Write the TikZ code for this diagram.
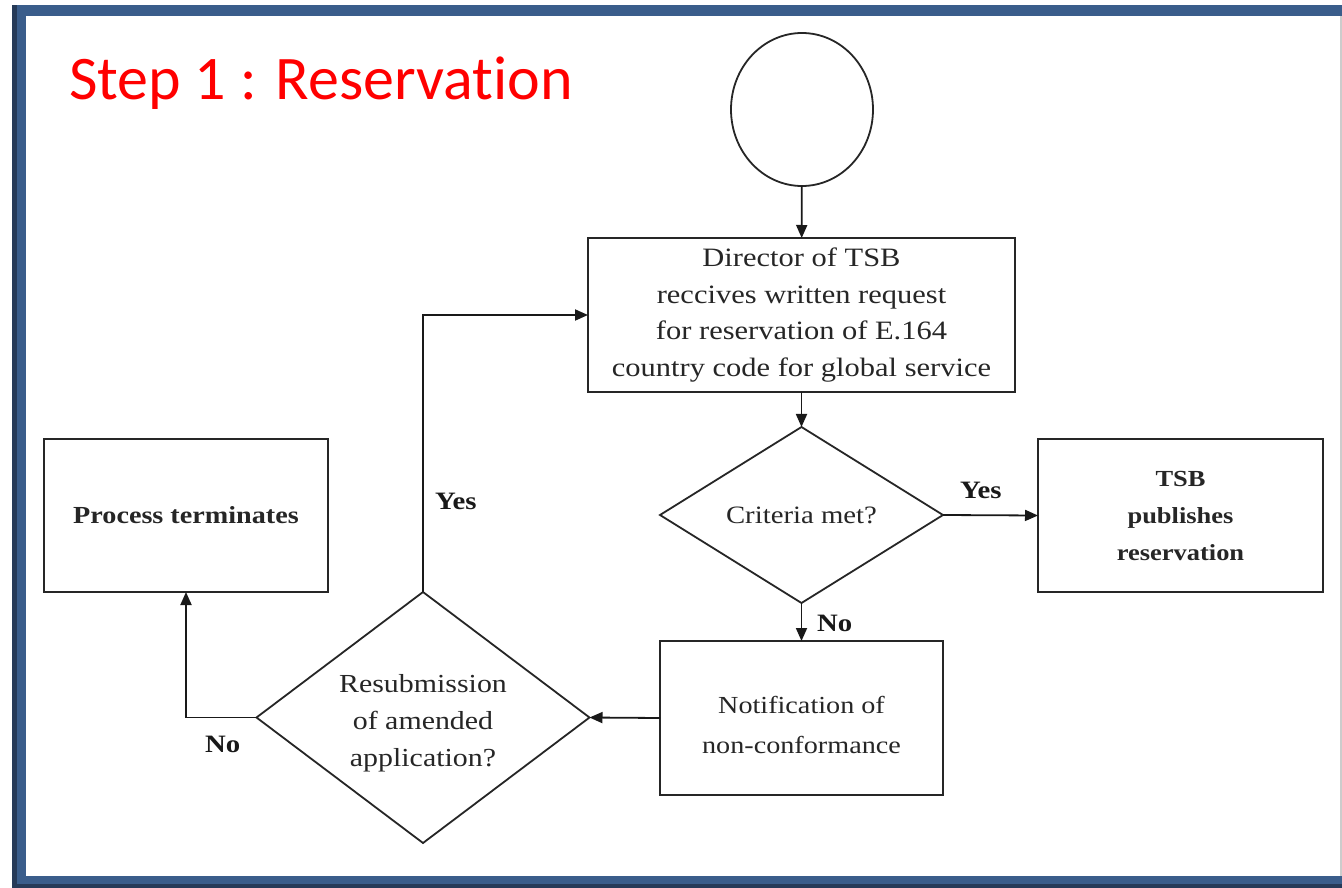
\documentclass[tikz,border=0pt]{standalone}
\usepackage{fontspec}
\setmainfont{Liberation Serif}[FakeStretch=1.15]
\newfontfamily\titlefont{Carlito}[Ligatures=NoCommon]
\usetikzlibrary{shapes.geometric,arrows.meta}
\definecolor{framebl}{HTML}{3A5D8B}
\definecolor{framedk}{HTML}{263A58}
\begin{document}
\begin{tikzpicture}[x=1pt,y=-1pt,
  every node/.style={inner sep=0pt,outer sep=0pt},
  txt/.style={font=\fontsize{25}{36.5}\selectfont,align=center,text=black!85},
  boxnode/.style={txt,draw=black!85,line width=1.8pt,rectangle},
  decision/.style={txt,draw=black!85,line width=1.8pt,diamond},
  lbl/.style={font=\fontsize{25}{28}\selectfont\bfseries,text=black!90},
  arr/.style={draw=black!90,line width=1.8pt,-{Triangle[length=13pt,width=11pt]}}]
\useasboundingbox (0,0) rectangle (1342,888);
% slide frame
\fill[white] (0,0) rectangle (1342,888);
\fill[framebl] (12,5) rectangle (1342,888);
\fill[framedk] (12,5) rectangle (17,888);
\fill[framedk] (12,884) rectangle (1342,888);
\fill[white] (26,16) rectangle (1340,876);
\fill[black!20] (1340,16) rectangle (1342,876);
% title
\node[anchor=base west,font=\titlefont\fontsize{62}{70}\selectfont,text=red] (title) at (69,100) {Step 1 : Reservation};
% nodes
\node[draw=black!85,line width=1.8pt,ellipse,minimum width=142pt,minimum height=153pt] (start) at (802,109.5) {};
\node[boxnode,minimum width=427pt,minimum height=154pt,font=\fontsize{26.5}{36.5}\selectfont] (req) at (801.5,315) {Director of TSB\\reccives written request\\for reservation of E.164\\country code for global service};
\node[decision,minimum width=283pt,minimum height=176pt,aspect=1.6] (crit) at (801.5,515) {Criteria met?};
\node[boxnode,minimum width=285pt,minimum height=153pt,font=\fontsize{23}{37}\selectfont\bfseries] (pub) at (1180.5,515.5) {TSB\\publishes\\reservation};
\node[boxnode,minimum width=283pt,minimum height=154pt] (notif) at (801.5,718) {};
\node[txt,font=\fontsize{24.5}{40}\selectfont] (notiftext) at (801.5,725) {Notification of\\non-conformance};
\node[decision,minimum width=333pt,minimum height=251pt,aspect=1.33] (resub) at (423,717.5) {};
\node[txt,font=\fontsize{26}{37}\selectfont] (resubtext) at (423,723) {Resubmission\\of amended\\application?};
\node[boxnode,minimum width=284pt,minimum height=153pt,font=\fontsize{24.5}{30}\selectfont\bfseries] (term) at (186,515.5) {Process terminates};
% connectors
\draw[arr] (start) -- (req);
\draw[arr] (req) -- (crit);
\draw[arr] (crit.east) -- (pub.west);
\draw[arr] (crit.south) -- (notif.north);
\draw[arr] (notif.west) -- (resub.east);
\draw[arr] (resub.north) |- (req.west);
\draw[arr] (resub.west) -| (term.south);
% branch labels
\node[lbl,anchor=base west] (ylbl1) at (960,498) {Yes};
\node[lbl,anchor=base west] (nlbl1) at (817,631) {No};
\node[lbl,anchor=base west] (ylbl2) at (435,509) {Yes};
\node[lbl,anchor=base west] (nlbl2) at (205,752) {No};
\end{tikzpicture}
\end{document}
